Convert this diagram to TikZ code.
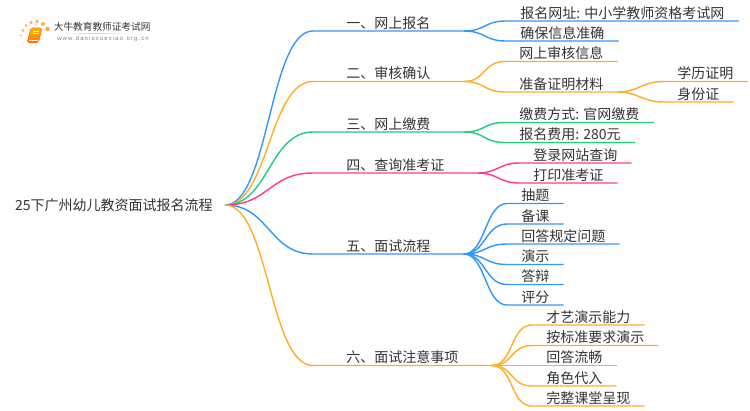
\documentclass[tikz,border=0pt]{standalone}
\usepackage{fontspec}
\setmainfont{Noto Sans CJK SC}
\newfontfamily\urlfont[LetterSpace=18]{Liberation Sans}
\definecolor{lineblue}{HTML}{2F98FF}
\definecolor{lineorange}{HTML}{FFAE24}
\definecolor{linegreen}{HTML}{20CE7C}
\definecolor{linepink}{HTML}{FF3A8C}
\definecolor{inktext}{HTML}{333333}
\tikzset{
  labelnode/.style={anchor=south west,inner ysep=0pt,text height=6.5pt,text depth=1.5pt,text=inktext},
  topicnode/.style={labelnode,inner xsep=0.66cm},
  leafnode/.style={labelnode,inner xsep=0.28cm},
  rootnode/.style={anchor=east,inner xsep=0.24cm,inner ysep=0pt,text=inktext},
  branch/.style={line width=0.8pt},
  logodot/.style={fill=#1,draw=none}
}
\begin{document}
\begin{tikzpicture}[x=0.02cm,y=-0.02cm]
\tikzstyle{every node}=[font=\fontsize{7.97}{9.5}\selectfont]
\useasboundingbox (0,0) rectangle (750,410);

\fill [logodot=orange!25] (23.5,43) circle (0.9);
\fill [logodot=orange!45] (21,35.5) circle (1.4);
\fill [logodot=orange!55] (23,30.5) circle (1.6);
\fill [logodot=orange!55] (26,25.5) circle (1.7);
\fill [logodot=orange!65] (31,22.5) circle (1.9);
\fill [logodot=orange!65] (37,21.5) circle (1.9);
\fill [logodot=orange!65] (43,24) circle (2);
\fill [logodot=orange!70] (47.5,29) circle (2.3);
\draw [rounded corners=1, top color=orange!55!yellow, bottom color=orange!90!red, draw=orange!85!red, line width=0.3pt] (31,28) -- (42,28) -- (38.5,42.5) -- (27,42.5) -- cycle;
\draw [white, line width=0.6pt] (29,40.5) -- (38,40.5);
\draw [white!85!orange, line width=0.4pt] (33,31) -- (39,31);
\draw [white!85!orange, line width=0.4pt] (32.5,33.5) -- (38.5,33.5);
\fill [left color=white, right color=black!18, draw=none] (60,33) rectangle (95,33.8);
\fill [left color=black!18, right color=white, draw=none] (95,33) rectangle (130,33.8);
\node [inner sep=0pt, anchor=west, text=inktext, font=\fontsize{5.5}{6.5}\selectfont] (logotext) at (53.5,27) {大牛教育教师证考试网};
\node [inner sep=0pt, anchor=west, text=black!50, font=\urlfont\fontsize{3.4}{4}\selectfont] (logourl) at (57,39) {www.daniuxuexiao.org.cn};

\node [rootnode] (root) at (225,205) {25下广州幼儿教资面试报名流程};

\node [topicnode] (t1) at (313,31) {一、网上报名};
\node [topicnode] (t2) at (313,81.5) {二、审核确认};
\node [topicnode] (t3) at (313,132) {三、网上缴费};
\node [topicnode] (t4) at (313,173) {四、查询准考证};
\node [topicnode] (t5) at (313,254) {五、面试流程};
\node [topicnode] (t6) at (313,365.5) {六、面试注意事项};

\node [leafnode] (l11) at (506,21) {报名网址: 中小学教师资格考试网};
\node [leafnode] (l12) at (506,41) {确保信息准确};
\node [leafnode] (l21) at (505,61.5) {网上审核信息};
\node [leafnode] (l22) at (505,92) {准备证明材料};
\node [leafnode] (l221) at (663,81.5) {学历证明};
\node [leafnode] (l222) at (663,102) {身份证};
\node [leafnode] (l31) at (505,122.5) {缴费方式: 官网缴费};
\node [leafnode] (l32) at (505,142.5) {报名费用: 280元};
\node [leafnode] (l41) at (519,163) {登录网站查询};
\node [leafnode] (l42) at (519,183) {打印准考证};
\node [leafnode] (l51) at (507,203.5) {抽题};
\node [leafnode] (l52) at (507,224) {备课};
\node [leafnode] (l53) at (507,244) {回答规定问题};
\node [leafnode] (l54) at (507,264.5) {演示};
\node [leafnode] (l55) at (507,284.5) {答辩};
\node [leafnode] (l56) at (507,305) {评分};
\node [leafnode] (l61) at (532,325) {才艺演示能力};
\node [leafnode] (l62) at (532,345.5) {按标准要求演示};
\node [leafnode] (l63) at (532,365.5) {回答流畅};
\node [leafnode] (l64) at (532,386) {角色代入};
\node [leafnode] (l65) at (532,406) {完整课堂呈现};

\draw [branch, lineblue] (root.east) .. controls +(44,0) and +(-44,0) .. (t1.south west) -- (t1.south east);
\draw [branch, lineorange] (root.east) .. controls +(44,0) and +(-44,0) .. (t2.south west) -- (t2.south east);
\draw [branch, linegreen] (root.east) .. controls +(44,0) and +(-44,0) .. (t3.south west) -- (t3.south east);
\draw [branch, linepink] (root.east) .. controls +(44,0) and +(-44,0) .. (t4.south west) -- (t4.south east);
\draw [branch, lineblue] (root.east) .. controls +(44,0) and +(-44,0) .. (t5.south west) -- (t5.south east);
\draw [branch, lineorange] (root.east) .. controls +(44,0) and +(-44,0) .. (t6.south west) -- (t6.south east);

\draw [branch, lineblue] (t1.south east) .. controls +(22,0) and +(-22,0) .. (l11.south west) -- (l11.south east);
\draw [branch, lineblue] (t1.south east) .. controls +(22,0) and +(-22,0) .. (l12.south west) -- (l12.south east);
\draw [branch, lineorange] (t2.south east) .. controls +(22,0) and +(-22,0) .. (l21.south west) -- (l21.south east);
\draw [branch, lineorange] (t2.south east) .. controls +(22,0) and +(-22,0) .. (l22.south west) -- (l22.south east);
\draw [branch, lineorange] (l22.south east) .. controls +(20,0) and +(-20,0) .. (l221.south west) -- (l221.south east);
\draw [branch, lineorange] (l22.south east) .. controls +(20,0) and +(-20,0) .. (l222.south west) -- (l222.south east);
\draw [branch, linegreen] (t3.south east) .. controls +(22,0) and +(-22,0) .. (l31.south west) -- (l31.south east);
\draw [branch, linegreen] (t3.south east) .. controls +(22,0) and +(-22,0) .. (l32.south west) -- (l32.south east);
\draw [branch, linepink] (t4.south east) .. controls +(20,0) and +(-20,0) .. (l41.south west) -- (l41.south east);
\draw [branch, linepink] (t4.south east) .. controls +(20,0) and +(-20,0) .. (l42.south west) -- (l42.south east);
\draw [branch, lineblue] (t5.south east) .. controls +(22,0) and +(-22,0) .. (l51.south west) -- (l51.south east);
\draw [branch, lineblue] (t5.south east) .. controls +(22,0) and +(-22,0) .. (l52.south west) -- (l52.south east);
\draw [branch, lineblue] (t5.south east) .. controls +(22,0) and +(-22,0) .. (l53.south west) -- (l53.south east);
\draw [branch, lineblue] (t5.south east) .. controls +(22,0) and +(-22,0) .. (l54.south west) -- (l54.south east);
\draw [branch, lineblue] (t5.south east) .. controls +(22,0) and +(-22,0) .. (l55.south west) -- (l55.south east);
\draw [branch, lineblue] (t5.south east) .. controls +(22,0) and +(-22,0) .. (l56.south west) -- (l56.south east);
\draw [branch, lineorange] (t6.south east) .. controls +(22,0) and +(-22,0) .. (l61.south west) -- (l61.south east);
\draw [branch, lineorange] (t6.south east) .. controls +(22,0) and +(-22,0) .. (l62.south west) -- (l62.south east);
\draw [branch, lineorange] (t6.south east) .. controls +(22,0) and +(-22,0) .. (l63.south west) -- (l63.south east);
\draw [branch, lineorange] (t6.south east) .. controls +(22,0) and +(-22,0) .. (l64.south west) -- (l64.south east);
\draw [branch, lineorange] (t6.south east) .. controls +(22,0) and +(-22,0) .. (l65.south west) -- (l65.south east);
\end{tikzpicture}
\end{document}
